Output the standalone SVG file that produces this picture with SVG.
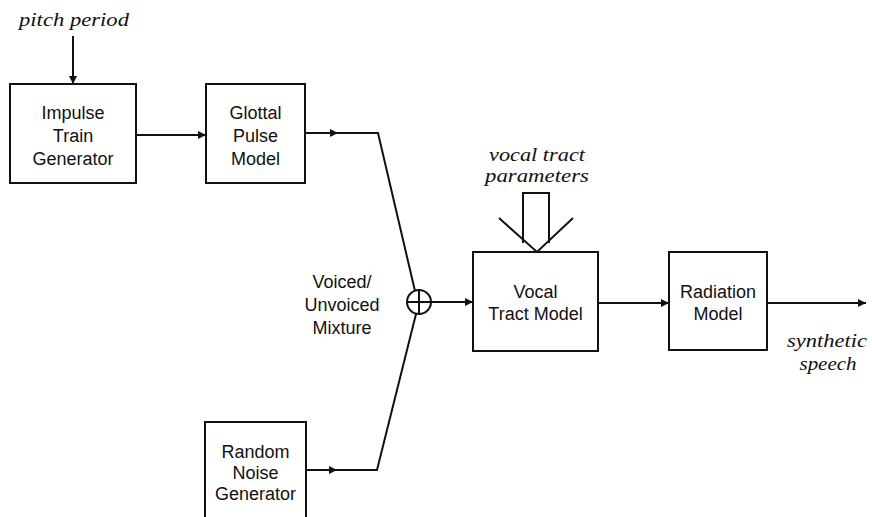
<svg xmlns="http://www.w3.org/2000/svg" width="872" height="517" viewBox="0 0 872 517">
  <defs>
    <style>
      .box { fill: none; stroke: #111; stroke-width: 2; }
      .wire { fill: none; stroke: #111; stroke-width: 2; }
      .head { fill: #111; }
      .lbl { font-family: "Liberation Sans", "DejaVu Sans", sans-serif; font-size: 18px; fill: #111; text-anchor: middle; }
      .note { font-family: "Liberation Serif", "DejaVu Serif", serif; font-style: italic; font-size: 19px; fill: #111; text-anchor: middle; }
    </style>
    <path id="ah" d="M0,0 L-8,-4 L-8,4 Z" class="head"/>
  </defs>
  <rect width="872" height="517" fill="#fff"/>

  <!-- connectors -->
  <g id="connectors">
    <!-- pitch period input -->
    <line class="wire" x1="73" y1="36" x2="73" y2="84"/>
    <use href="#ah" transform="translate(73,84) rotate(90)"/>
    <!-- impulse train -> glottal pulse -->
    <line class="wire" x1="136" y1="135" x2="206" y2="135"/>
    <use href="#ah" transform="translate(206,135)"/>
    <!-- glottal pulse -> mixer -->
    <polyline class="wire" points="305,133 378,133 415,291"/>
    <use href="#ah" transform="translate(338,133)"/>
    <!-- random noise -> mixer -->
    <polyline class="wire" points="306,470 377,470 416,314"/>
    <use href="#ah" transform="translate(337,470)"/>
    <!-- mixer -> vocal tract -->
    <line class="wire" x1="431" y1="302" x2="473" y2="302"/>
    <use href="#ah" transform="translate(473,302)"/>
    <!-- vocal tract -> radiation -->
    <line class="wire" x1="598" y1="303" x2="669" y2="303"/>
    <use href="#ah" transform="translate(669,303)"/>
    <!-- radiation -> output -->
    <line class="wire" x1="767" y1="303" x2="866" y2="303"/>
    <use href="#ah" transform="translate(866,303)"/>
    <!-- vocal tract parameters: broad arrow -->
    <path class="wire" d="M523,243 L523,193 L549,193 L549,243"/>
    <path class="wire" d="M499,218 L537,252 L573,218"/>
  </g>

  <g id="pitch-period">
    <text class="note" x="74" y="26" textLength="110" lengthAdjust="spacingAndGlyphs">pitch period</text>
  </g>

  <g id="impulse-train-generator">
    <rect class="box" x="10" y="84" width="126" height="99"/>
    <text class="lbl" x="73" y="119">Impulse</text>
    <text class="lbl" x="73" y="142">Train</text>
    <text class="lbl" x="73" y="165">Generator</text>
  </g>

  <g id="glottal-pulse-model">
    <rect class="box" x="206" y="84" width="99" height="99"/>
    <text class="lbl" x="255.5" y="119">Glottal</text>
    <text class="lbl" x="255.5" y="142">Pulse</text>
    <text class="lbl" x="255.5" y="165">Model</text>
  </g>

  <g id="random-noise-generator">
    <path class="box" d="M205,517 L205,422 L306,422 L306,517"/>
    <text class="lbl" x="255.5" y="458">Random</text>
    <text class="lbl" x="255.5" y="479">Noise</text>
    <text class="lbl" x="255.5" y="500">Generator</text>
  </g>

  <g id="mixer">
    <circle class="box" cx="419" cy="302" r="12"/>
    <line class="wire" x1="407" y1="302" x2="431" y2="302"/>
    <line class="wire" x1="419" y1="290" x2="419" y2="314"/>
    <text class="lbl" x="342" y="288">Voiced/</text>
    <text class="lbl" x="342" y="311">Unvoiced</text>
    <text class="lbl" x="342" y="334">Mixture</text>
  </g>

  <g id="vocal-tract-parameters">
    <text class="note" x="537" y="161" textLength="96" lengthAdjust="spacingAndGlyphs">vocal tract</text>
    <text class="note" x="537" y="182" textLength="104" lengthAdjust="spacingAndGlyphs">parameters</text>
  </g>

  <g id="vocal-tract-model">
    <rect class="box" x="473" y="252" width="125" height="99"/>
    <text class="lbl" x="535.5" y="298">Vocal</text>
    <text class="lbl" x="535.5" y="320">Tract Model</text>
  </g>

  <g id="radiation-model">
    <rect class="box" x="669" y="252" width="98" height="98"/>
    <text class="lbl" x="718" y="298">Radiation</text>
    <text class="lbl" x="718" y="320">Model</text>
  </g>

  <g id="synthetic-speech">
    <text class="note" x="827" y="347" textLength="80" lengthAdjust="spacingAndGlyphs">synthetic</text>
    <text class="note" x="828" y="370" textLength="57" lengthAdjust="spacingAndGlyphs">speech</text>
  </g>
</svg>
